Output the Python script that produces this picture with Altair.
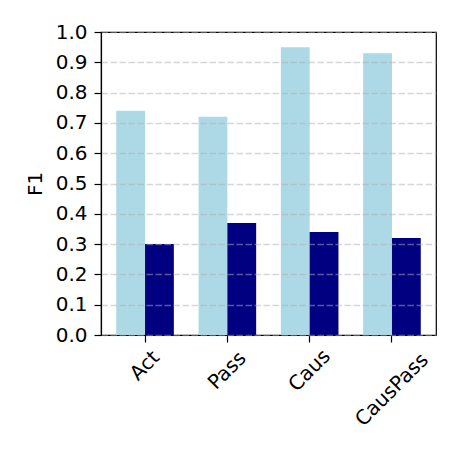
import altair as alt
import pandas as pd

categories = ["Act", "Pass", "Caus", "CausPass"]
series_names = ["light", "dark"]
light_values = [0.74, 0.72, 0.95, 0.93]
dark_values = [0.30, 0.37, 0.34, 0.32]
colors = ["#add8e6", "#000080"]
y_ticks = [0.0, 0.1, 0.2, 0.3, 0.4, 0.5, 0.6, 0.7, 0.8, 0.9, 1.0]

rows = []
for c, a, b in zip(categories, light_values, dark_values):
    rows.append({"cat": c, "series": "light", "value": a})
    rows.append({"cat": c, "series": "dark", "value": b})
df = pd.DataFrame(rows)

FONT = "DejaVu Sans"
FS = 20

chart = alt.Chart(df).mark_bar().encode(
    x=alt.X(
        "cat:N",
        sort=categories,
        title=None,
        scale=alt.Scale(paddingInner=0.3, paddingOuter=0.185),
        axis=alt.Axis(
            labelAngle=-45,
            labelAlign="center",
            labelBaseline="middle",
            labelPadding={"condition": {"test": "false", "value": 0},
                          "expr": "9 + 4.8*length(datum.label)"},
            labelFont=FONT,
            labelFontSize=FS,
            labelColor="black",
            tickSize=7,
            tickColor="black",
            tickWidth=1.2,
            domainColor="black",
            domainWidth=1.2,
            grid=False,
        ),
    ),
    xOffset=alt.XOffset("series:N", sort=series_names,
                        scale=alt.Scale(paddingInner=0, paddingOuter=0)),
    y=alt.Y(
        "value:Q",
        title="F1",
        scale=alt.Scale(domain=[0, 1], nice=False),
        axis=alt.Axis(
            values=y_ticks,
            format=".1f",
            labelFont=FONT,
            labelFontSize=FS,
            labelColor="black",
            labelPadding=7,
            tickSize=7,
            tickColor="black",
            tickWidth=1.2,
            domainColor="black",
            domainWidth=1.2,
            grid=True,
            gridColor="#b0b0b0",
            gridOpacity=0.5,
            gridDash=[6.5, 2.5],
            gridWidth=1.4,
            titleFont=FONT,
            titleFontSize=FS,
            titleFontWeight="normal",
            titleColor="black",
            titlePadding=10,
            zindex=1,
        ),
    ),
    color=alt.Color("series:N", scale=alt.Scale(domain=series_names, range=colors), legend=None),
).properties(
    width=335,
    height=303,
    autosize=alt.AutoSizeParams(type="none"),
    padding={"left": 93, "top": 24, "right": 15, "bottom": 116},
).configure_view(
    stroke="black",
    strokeWidth=1.2,
)

chart.save("out.html", embed_options={"renderer": "svg", "actions": False})
